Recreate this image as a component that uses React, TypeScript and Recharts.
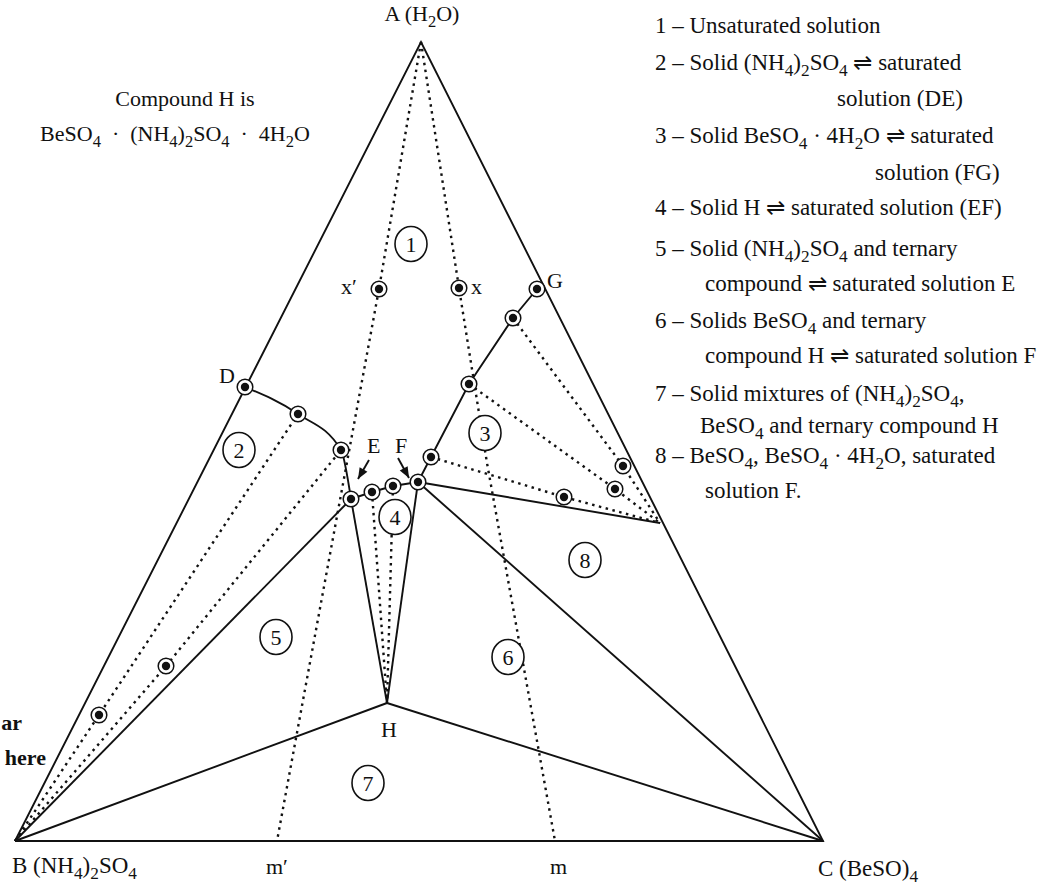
import { ComposedChart, XAxis, YAxis, Line, Scatter } from 'recharts'

const WIDTH = 1048
const HEIGHT = 890
const FONT = '"Liberation Serif", "Times New Roman", Times, serif'
const INK = '#111'

type Pt = { x: number; y: number }

// plate coordinates, y grows downwards (y axis is reversed)
const A: Pt = { x: 421, y: 42 }
const B: Pt = { x: 15, y: 841 }
const C: Pt = { x: 823, y: 841 }

// saturation curve D - E - F - G
const D: Pt = { x: 245, y: 387 }
const DE_1: Pt = { x: 298, y: 414 }
const DE_2: Pt = { x: 341, y: 450 }
const E: Pt = { x: 351, y: 499 }
const EF_1: Pt = { x: 372, y: 492 }
const EF_2: Pt = { x: 393, y: 486 }
const F: Pt = { x: 418, y: 482 }
const FG_1: Pt = { x: 431, y: 457 }
const FG_2: Pt = { x: 469, y: 384 }
const FG_3: Pt = { x: 513, y: 318 }
const G: Pt = { x: 537, y: 289 }

// ternary compound, hydrate point on AC, solid end points of tie lines
const H: Pt = { x: 387, y: 703 }
const P: Pt = { x: 660, y: 523 }
const B_1: Pt = { x: 99, y: 715 }
const B_2: Pt = { x: 166, y: 666 }
const T_1: Pt = { x: 564, y: 497 }
const T_2: Pt = { x: 615, y: 489 }
const T_3: Pt = { x: 623, y: 466 }

// isopleths A-x'-m' and A-x-m
const XP: Pt = { x: 379, y: 289 }
const MP: Pt = { x: 277, y: 841 }
const X: Pt = { x: 459, y: 288 }
const X_MID: Pt = { x: 487, y: 463 }
const M: Pt = { x: 555, y: 841 }

const SOLID_LINES: Pt[][] = [
  [B, A, C, B],
  [E, EF_1, EF_2, F],
  [F, FG_1, FG_2, FG_3, G],
  [B, E],
  [E, H],
  [F, H],
  [B, H],
  [H, C],
  [F, C],
  [F, P],
]

const CURVE_DE: Pt[] = [D, DE_1, DE_2, E]

const DOTTED_LINES: Pt[][] = [
  [A, XP, MP],
  [A, X, X_MID, M],
  [B, B_1, DE_1],
  [B, B_2, DE_2],
  [EF_1, H],
  [EF_2, H],
  [FG_1, T_1, P],
  [FG_2, T_2, P],
  [FG_3, T_3, P],
]

const MARKERS: Pt[] = [
  D, DE_1, DE_2, E, EF_1, EF_2, F, FG_1, FG_2, FG_3, G,
  XP, X, B_1, B_2, T_1, T_2, T_3,
]

const REGIONS = [
  { x: 411, y: 244, n: '1' },
  { x: 239, y: 450, n: '2' },
  { x: 485, y: 433, n: '3' },
  { x: 395, y: 517, n: '4' },
  { x: 276, y: 637, n: '5' },
  { x: 508, y: 657, n: '6' },
  { x: 368, y: 783, n: '7' },
  { x: 585, y: 560, n: '8' },
]

// arrows pointing at E and F
const ARROWS = [
  { fx: 369, fy: 460, x: 358, y: 479 },
  { fx: 398, fy: 458, x: 409, y: 478 },
]

const SP = '\u2002·\u2002'

// "_d" = subscript digit
const POINT_LABELS = [
  { x: 219, y: 383, text: 'D' },
  { x: 367, y: 453, text: 'E' },
  { x: 395, y: 453, text: 'F' },
  { x: 547, y: 288, text: 'G' },
  { x: 341, y: 294, text: 'x′' },
  { x: 471, y: 294, text: 'x' },
  { x: 266, y: 874, text: 'm′' },
  { x: 550, y: 874, text: 'm' },
]

const CORNER_LABELS = [
  { x: 12, y: 873, text: 'B (NH_4)_2SO_4' },
  { x: 818, y: 876, text: 'C (BeSO)_4' },
]

const CENTERED_LABELS = [
  { x: 422, y: 21, text: 'A (H_2O)' },
  { x: 389, y: 737, text: 'H' },
  { x: 185, y: 106, text: 'Compound H is' },
  { x: 175, y: 141, text: `BeSO_4${SP}(NH_4)_2SO_4${SP}4H_2O` },
]

// text cut off at the left edge of the plate
const CUT_TEXT = [
  { x: 22, y: 730, text: 'ar' },
  { x: 46, y: 765, text: 'here' },
]

const LEGEND = [
  { x: 655, y: 33, text: '1 – Unsaturated solution' },
  { x: 655, y: 70, text: '2 – Solid (NH_4)_2SO_4 ⇌ saturated' },
  { x: 837, y: 106, text: 'solution (DE)' },
  { x: 655, y: 143, text: '3 – Solid BeSO_4 · 4H_2O ⇌ saturated' },
  { x: 875, y: 180, text: 'solution (FG)' },
  { x: 655, y: 215, text: '4 – Solid H ⇌ saturated solution (EF)' },
  { x: 655, y: 256, text: '5 – Solid (NH_4)_2SO_4 and ternary' },
  { x: 705, y: 291, text: 'compound ⇌ saturated solution E' },
  { x: 655, y: 328, text: '6 – Solids BeSO_4 and ternary' },
  { x: 705, y: 363, text: 'compound H ⇌ saturated solution F' },
  { x: 655, y: 401, text: '7 – Solid mixtures of (NH_4)_2SO_4,' },
  { x: 700, y: 433, text: 'BeSO_4 and ternary compound H' },
  { x: 655, y: 463, text: '8 – BeSO_4, BeSO_4 · 4H_2O, saturated' },
  { x: 705, y: 498, text: 'solution F.' },
]

function Rich({ x, y, text, size, anchor = 'start', weight = 'normal' }: any) {
  const parts: string[] = text.split(/_(\d)/)
  const shift = size * 0.27
  let low = false
  const spans: any[] = []
  parts.forEach((p, i) => {
    if (i % 2 === 1) {
      spans.push(<tspan key={i} dy={low ? 0 : shift} fontSize={size * 0.75}>{p}</tspan>)
      low = true
    } else if (p) {
      spans.push(<tspan key={i} dy={low ? -shift : 0}>{p}</tspan>)
      low = false
    }
  })
  return (
    <text x={x} y={y} fontSize={size} fontFamily={FONT} fontWeight={weight} textAnchor={anchor} fill={INK}>
      {spans}
    </text>
  )
}

const textShape = (size: number, anchor: string, weight = 'normal') => (props: any) => (
  <Rich x={props.cx} y={props.cy} text={props.payload.text} size={size} anchor={anchor} weight={weight} />
)

const markerShape = (props: any) => (
  <g>
    <circle cx={props.cx} cy={props.cy} r={7.8} fill="#fff" stroke={INK} strokeWidth={1.5} />
    <circle cx={props.cx} cy={props.cy} r={4.2} fill={INK} />
  </g>
)

const regionShape = (props: any) => (
  <g>
    <ellipse cx={props.cx} cy={props.cy} rx={16} ry={17.5} fill="#fff" stroke={INK} strokeWidth={1.6} />
    <text x={props.cx} y={props.cy + 7.5} textAnchor="middle" fontSize={22} fontFamily={FONT} fill={INK}>
      {props.payload.n}
    </text>
  </g>
)

const arrowHead = (props: any) => {
  const { cx, cy, payload } = props
  const ang = Math.atan2(payload.y - payload.fy, payload.x - payload.fx)
  const len = 11
  const half = 4.5
  const bx = cx - len * Math.cos(ang)
  const by = cy - len * Math.sin(ang)
  const nx = -Math.sin(ang) * half
  const ny = Math.cos(ang) * half
  return <polygon points={`${cx},${cy} ${bx + nx},${by + ny} ${bx - nx},${by - ny}`} fill={INK} />
}

const lineProps = {
  dataKey: 'y',
  dot: false,
  activeDot: false,
  isAnimationActive: false,
  legendType: 'none' as const,
}

export default function App() {
  return (
    <div style={{ position: 'absolute', left: 0, top: 0, background: '#fff' }}>
      <ComposedChart width={WIDTH} height={HEIGHT} margin={{ top: 0, right: 0, bottom: 0, left: 0 }}>
        <XAxis type="number" dataKey="x" domain={[0, WIDTH]} allowDataOverflow hide />
        <YAxis type="number" dataKey="y" domain={[0, HEIGHT]} reversed allowDataOverflow hide />

        {DOTTED_LINES.map((seg, i) => (
          <Line key={`dot${i}`} {...lineProps} data={seg} type="linear" stroke={INK}
            strokeWidth={2.4} strokeDasharray="2.5 4.5" />
        ))}
        {SOLID_LINES.map((seg, i) => (
          <Line key={`sol${i}`} {...lineProps} data={seg} type="linear" stroke={INK} strokeWidth={1.9} />
        ))}
        <Line {...lineProps} data={CURVE_DE} type="monotone" stroke={INK} strokeWidth={1.9} />
        {ARROWS.map((a, i) => (
          <Line key={`arr${i}`} {...lineProps} data={[{ x: a.fx, y: a.fy }, { x: a.x, y: a.y }]}
            type="linear" stroke={INK} strokeWidth={1.9} />
        ))}
        <Scatter data={ARROWS} shape={arrowHead} isAnimationActive={false} />

        <Scatter data={MARKERS} shape={markerShape} isAnimationActive={false} />
        <Scatter data={REGIONS} shape={regionShape} isAnimationActive={false} />

        <Scatter data={POINT_LABELS} shape={textShape(22, 'start')} isAnimationActive={false} />
        <Scatter data={CORNER_LABELS} shape={textShape(23, 'start')} isAnimationActive={false} />
        <Scatter data={CENTERED_LABELS} shape={textShape(22, 'middle')} isAnimationActive={false} />
        <Scatter data={CUT_TEXT} shape={textShape(22, 'end', 'bold')} isAnimationActive={false} />
        <Scatter data={LEGEND} shape={textShape(23, 'start')} isAnimationActive={false} />
      </ComposedChart>
    </div>
  )
}
